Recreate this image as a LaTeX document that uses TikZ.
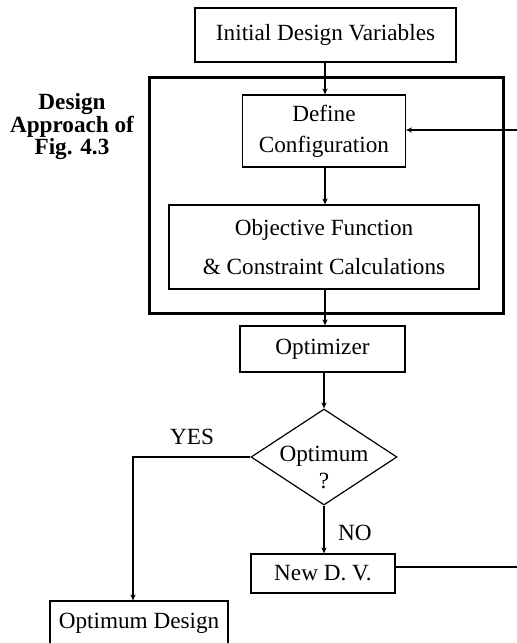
\documentclass[tikz,border=0pt]{standalone}
\usepackage{fontspec}
\setmainfont{Liberation Serif}
\usetikzlibrary{shapes.geometric,arrows.meta}
\begin{document}
\begin{tikzpicture}[x=0.5pt,y=-0.5pt,
  box/.style={draw,line width=0.6pt,inner sep=0pt,align=center,font=\fontsize{11.6}{14}\selectfont},
  lbl/.style={inner sep=0pt,align=center,font=\fontsize{11.6}{14}\selectfont},
  arr/.style={line width=0.6pt,-{Stealth[length=3pt,width=2.6pt]}},
  ln/.style={line width=0.6pt}]
\useasboundingbox (0,0) rectangle (517,643);
\node[box,minimum width=130.5pt,minimum height=27pt] (init) at (325.5,35) {Initial Design Variables};
\node[draw,line width=1.5pt,minimum width=177pt,minimum height=118pt,inner sep=0pt] (big) at (326,195) {};
\node[box,minimum width=81.5pt,minimum height=36pt,font=\fontsize{11.6}{15.5}\selectfont] (def) at (324,131) {Define\\Configuration};
\node[box,minimum width=155pt,minimum height=42pt,font=\fontsize{11.6}{19.5}\selectfont] (obj) at (324,247) {Objective Function\\\& Constraint Calculations};
\node[box,minimum width=82.5pt,minimum height=23pt] (opt) at (322.5,349) {Optimizer};
\node[diamond,draw,line width=0.6pt,minimum width=73pt,minimum height=48pt,inner sep=0pt] (dec) at (324,457) {};
\node[lbl,font=\fontsize{11.6}{13.5}\selectfont] (dect) at (324,467) {Optimum\\?};
\node[box,minimum width=72pt,minimum height=19.5pt] (ndv) at (323,573.5) {New D. V.};
\node[box,minimum width=89pt,minimum height=22.5pt] (od) at (139,623.5) {Optimum Design};
\node[lbl,font=\bfseries\fontsize{11.6}{11.25}\selectfont] (fig) at (72,127) {Design\\Approach of\\Fig. 4.3};
\node[lbl] (yes) at (192,437) {YES};
\node[lbl] (no) at (355,533) {NO};
\coordinate (r1) at (535,567);
\coordinate (r2) at (535,130);
\draw[arr] (init.south -| 325,0) -- (def.north -| 325,0);
\draw[arr] (def.south -| 325,0) -- (obj.north -| 325,0);
\draw[arr] (obj.south -| 325,0) -- (opt.north -| 325,0);
\draw[arr] (opt.south -| 324,0) -- (dec.north);
\draw[arr] (dec.west) -| (od.north -| 133,0);
\draw[arr] (dec.south) -- (ndv.north -| dec.south);
\draw[ln] (ndv.east |- r1) -- (r1) -- (r2);
\draw[arr] (r2) -- (def.east |- r2);
\end{tikzpicture}
\end{document}
